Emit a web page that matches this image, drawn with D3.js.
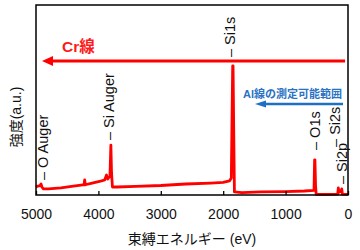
<!DOCTYPE html>
<html>
<head>
<meta charset="utf-8">
<script src="https://cdn.jsdelivr.net/npm/d3@7"></script>
<style>
	body { margin: 0; background: #fff; }
	text { font-family: "Liberation Sans", Arial, "Noto Sans CJK JP", sans-serif; }
</style>
</head>
<body>
<div id="chart"></div>
<script>

// spectrum (binding energy eV, intensity a.u.)
var energy = [5000, 4970, 4935, 4920, 4905, 4880, 4800, 4600, 4400, 4250, 4230, 4220, 4210,
	4100, 3950, 3900, 3870, 3850, 3815, 3800, 3790, 3775, 3700, 3400, 3000, 2600, 2200,
	2000, 1900, 1870, 1848, 1842, 1830, 1820, 1700, 1400, 1000, 700, 545, 535, 530, 520,
	510, 300, 165, 155, 145, 110, 100, 90, 0];
var intensity = [4.2, 4.7, 4.9, 5.8, 4.2, 3.2, 3.2, 3.7, 4.7, 5.3, 5.3, 7.9, 5.4,
	6.3, 7.4, 7.9, 10.5, 8.4, 10.0, 26.3, 12.0, 4.2, 4.2, 4.5, 5.0, 5.8, 6.3,
	6.6, 7.4, 8.9, 67.9, 67.9, 30.0, 1.6, 1.3, 1.6, 1.8, 2.1, 2.4, 18.5, 18.5, 5.0,
	0.3, 0.3, 0.5, 3.7, 1.5, 2.1, 3.2, 0.5, 0.3];

var xTicks = [5000, 4000, 3000, 2000, 1000, 0];

var peakNames = ['– O Auger', '– Si Auger', '– Si1s', '– O1s', '– Si2s', '– Si2p'];
var peakLabelE = [4888, 3830, 1891, 528, 208, 96];
var peakLabelI = [7.9, 28.9, 72.6, 23.7, 25.3, 5.8];

// annotation arrows: [from eV, to eV], level
var crArrow = [47, 4904], crLevel = 70.5;
var alArrow = [80, 1490], alLevel = 47.9;

var width = 360,
	height = 250;

var svg = d3.select('#chart').append('svg')
	.attr('width', width)
	.attr('height', height);

var x = d3.scaleLinear().domain([5000, 0]).range([36, 348]);
var y = d3.scaleLinear().domain([0, 100]).range([195, 5]);

// arrow heads
var defs = svg.append('defs');
defs.append('marker')
	.attr('id', 'headRed')
	.attr('markerUnits', 'userSpaceOnUse')
	.attr('markerWidth', 12).attr('markerHeight', 12)
	.attr('refX', 0).attr('refY', 6)
	.attr('orient', 'auto-start-reverse')
	.append('path')
	.attr('d', 'M0,1 L11,6 L0,11 Z')
	.style('fill', '#ff0000');
defs.append('marker')
	.attr('id', 'headBlue')
	.attr('markerUnits', 'userSpaceOnUse')
	.attr('markerWidth', 12).attr('markerHeight', 10)
	.attr('refX', 0).attr('refY', 5)
	.attr('orient', 'auto-start-reverse')
	.append('path')
	.attr('d', 'M0,1.5 L11,5 L0,8.5 Z')
	.style('fill', '#1f6fc5');

// spectrum
var line = d3.line()
	.x(function(d) { return x(d[0]); })
	.y(function(d) { return y(d[1]); });

svg.append('path')
	.datum(d3.zip(energy, intensity))
	.attr('d', line)
	.style('fill', 'none')
	.style('stroke', '#ff0000')
	.style('stroke-width', 2.8)
	.style('stroke-linejoin', 'round');

// frame
svg.append('rect')
	.attr('x', 36).attr('y', 5)
	.attr('width', 312).attr('height', 190)
	.style('fill', 'none')
	.style('stroke', '#000')
	.style('stroke-width', 1.5);

// x axis, ticks pointing inward
var xAxis = svg.append('g')
	.attr('transform', 'translate(0,195)')
	.call(d3.axisBottom(x).tickValues(xTicks).tickSize(-4).tickPadding(14).tickFormat(d3.format('d')));
xAxis.select('.domain').remove();
xAxis.selectAll('line').style('stroke', '#000').style('stroke-width', 1.3);
xAxis.selectAll('text')
	.style('font-size', '14px')
	.style('fill', '#111');

svg.append('text')
	.attr('x', 192)
	.attr('y', 244)
	.attr('text-anchor', 'middle')
	.style('font-size', '14px')
	.style('fill', '#111')
	.text('束縛エネルギー (eV)');

svg.append('text')
	.attr('transform', 'translate(21,117) rotate(-90)')
	.attr('text-anchor', 'middle')
	.style('font-size', '14px')
	.style('fill', '#111')
	.text('強度(a.u.)');

// peak labels
svg.selectAll('text.peak')
	.data(d3.range(peakNames.length))
	.enter()
	.append('text')
	.classed('peak', true)
	.attr('transform', function(i) {
		return 'translate(' + (x(peakLabelE[i]) + 5) + ',' + y(peakLabelI[i]) + ') rotate(-90)';
	})
	.style('font-size', '14.5px')
	.style('fill', '#111')
	.text(function(i) { return peakNames[i]; });

// Cr arrow
svg.append('line')
	.attr('x1', x(crArrow[0])).attr('y1', y(crLevel))
	.attr('x2', x(crArrow[1]) + 11).attr('y2', y(crLevel))
	.attr('marker-end', 'url(#headRed)')
	.style('stroke', '#ff0000')
	.style('stroke-width', 3);

svg.append('text')
	.attr('x', 62)
	.attr('y', 52)
	.style('font-size', '15.5px')
	.style('font-weight', 'bold')
	.style('fill', '#ff1a1a')
	.text('Cr線');

// Al arrow
svg.append('line')
	.attr('x1', x(alArrow[0])).attr('y1', y(alLevel))
	.attr('x2', x(alArrow[1]) + 11).attr('y2', y(alLevel))
	.attr('marker-end', 'url(#headBlue)')
	.style('stroke', '#1f6fc5')
	.style('stroke-width', 2.5);

svg.append('text')
	.attr('x', 342)
	.attr('y', 98)
	.attr('text-anchor', 'end')
	.style('font-size', '11px')
	.style('font-weight', 'bold')
	.style('fill', '#2a72c4')
	.text('Al線の測定可能範囲');

</script>
</body>
</html>
